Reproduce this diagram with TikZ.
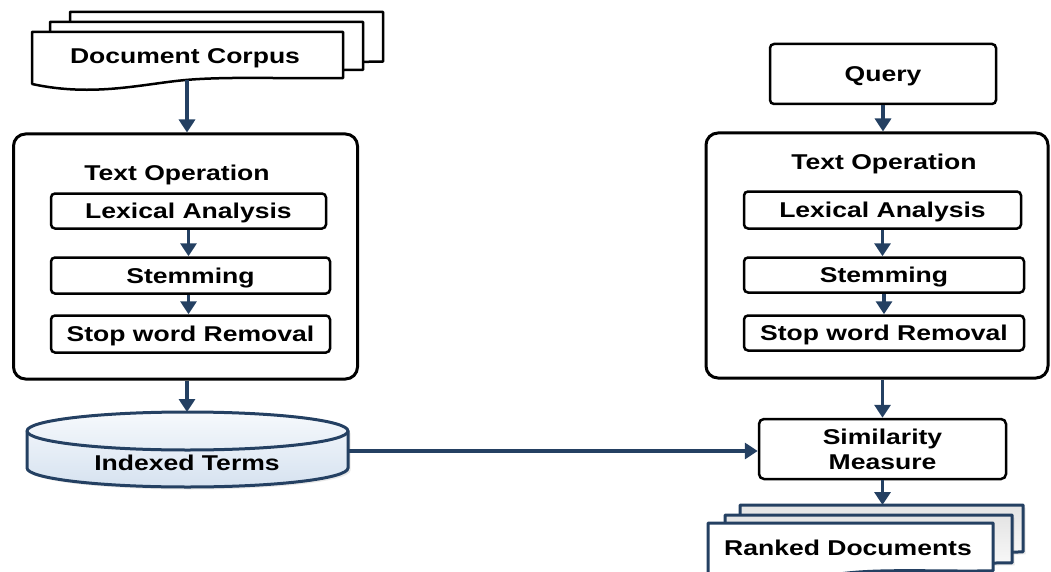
\documentclass[tikz,border=0pt]{standalone}
\usepackage{fontspec}
\setmainfont{Liberation Sans}[FakeStretch=1.24]
\usetikzlibrary{arrows.meta,calc,shadows}
\definecolor{navy}{RGB}{36,64,98}
\definecolor{cylTop}{RGB}{246,249,252}
\definecolor{cylBot}{RGB}{214,226,240}
\definecolor{pageGray}{RGB}{228,228,228}

% One sheet of a stacked-document symbol: style, left, top, width, height
\newcommand\docsheet[5]{%
  \path[#1, shift={(#2,#3)}, xscale=#4, yscale=#5]
    (0,1) -- (0,0) -- (1,0) -- (1,0.885)
    .. controls (0.83,0.904) and (0.64,0.85) .. (0.5,0.92)
    .. controls (0.36,0.99) and (0.2,1.26) .. cycle;}

\begin{document}
\begin{tikzpicture}[x=1pt,y=-1pt,
  every node/.style={font=\fontsize{21.4}{25.3}\selectfont\bfseries},
  lbl/.style={inner sep=0pt, text height=15pt, text depth=0pt},
  box/.style={draw=black, line width=2.5pt, rounded corners=4pt, fill=white,
              inner sep=0pt, text height=15pt, text depth=0pt},
  frame/.style={draw=black, line width=3pt, rounded corners=12pt, inner sep=0pt},
  arr/.style={draw=navy, line width=3.5pt, -{Triangle[width=16pt,length=13pt]}},
  sheet/.style={draw=black, line width=2.5pt, fill=white, line join=round},
  rsheet/.style={draw=navy, line width=3pt, line join=round},
  softshadow/.style={drop shadow={opacity=0.18, shadow xshift=2.5pt, shadow yshift=-2.5pt}},
]
\useasboundingbox (0,0) rectangle (1051,572);

% ---- document corpus (stacked sheets)
\docsheet{sheet}{70}{12}{313}{56}
\docsheet{sheet}{50}{22}{313}{54}
\docsheet{sheet}{32}{32}{311}{52}
\node[lbl] (corpus) at (185,56) {Document Corpus};
\coordinate (corpusb) at (187,80);

% ---- left text operation block
\node[frame, minimum width=344pt, minimum height=245pt] (opL) at (185.5,256.5) {};
\node[lbl] (tL) at (177,173.5) {Text Operation};
\node[box, minimum width=275pt, minimum height=35pt] (lexL) at (188.5,211) {Lexical Analysis};
\node[box, minimum width=279pt, minimum height=36pt] (stemL) at (190.5,275.5) {Stemming};
\node[box, minimum width=279pt, minimum height=37pt] (stopL) at (190.5,334) {Stop word Removal};

% ---- indexed terms (cylinder)
\path[softshadow, draw=navy, line width=3pt, top color=cylTop, bottom color=cylBot]
  (27,431) -- (27,468)
  arc[start angle=180, end angle=360, x radius=160.5pt, y radius=19pt]
  -- (348,431)
  arc[start angle=0, end angle=180, x radius=160.5pt, y radius=19pt] -- cycle;
\draw[navy, line width=3pt] (27,431)
  arc[start angle=180, end angle=360, x radius=160.5pt, y radius=19pt];
\node[lbl] (terms) at (187,463) {Indexed Terms};
\coordinate (cyltop) at (187,412);
\coordinate (cylr) at (348,451);

% ---- query side
\node[box, minimum width=226pt, minimum height=60pt] (query) at (883,74) {Query};
\node[frame, minimum width=342pt, minimum height=245pt] (opR) at (877,255.5) {};
\node[lbl] (tR) at (884,161.7) {Text Operation};
\node[box, minimum width=277pt, minimum height=37pt] (lexR) at (882.5,210) {Lexical Analysis};
\node[box, minimum width=280pt, minimum height=35pt] (stemR) at (884,275) {Stemming};
\node[box, minimum width=280pt, minimum height=35pt] (stopR) at (884,333) {Stop word Removal};

% ---- similarity measure
\node[draw=black, line width=2.5pt, rounded corners=5pt, fill=white, inner sep=0pt,
      minimum width=247pt, minimum height=60pt, align=center] (sim) at (882.5,449)
      {Similarity\\Measure};

% ---- ranked documents (stacked sheets)
\docsheet{rsheet, softshadow, top color=pageGray, bottom color=white}{740}{505}{283}{53}
\docsheet{rsheet, softshadow, top color=pageGray, bottom color=white}{725}{515}{287}{54}
\docsheet{rsheet, fill=white}{708}{523}{285}{54}
\node[lbl] (ranked) at (848,548) {Ranked Documents};
\coordinate (rankedtop) at (880,505);

% ---- connectors
\draw[arr] (corpusb) -- (corpusb |- opL.north);
\draw[arr] (lexL.south) -- (lexL.south |- stemL.north);
\draw[arr] (stemL.south -| lexL.south) -- (lexL.south |- stopL.north);
\draw[arr] (cyltop |- opL.south) -- (cyltop);
\draw[arr] (query.south) -- (query.south |- opR.north);
\draw[arr] (lexR.south) -- (lexR.south |- stemR.north);
\draw[arr] (stemR.south) -- (stemR.south |- stopR.north);
\draw[arr] (sim.north |- opR.south) -- (sim.north);
\draw[arr] (cylr) -- (cylr -| sim.west);
\draw[arr] (sim.south) -- (sim.south |- rankedtop);
\end{tikzpicture}
\end{document}
